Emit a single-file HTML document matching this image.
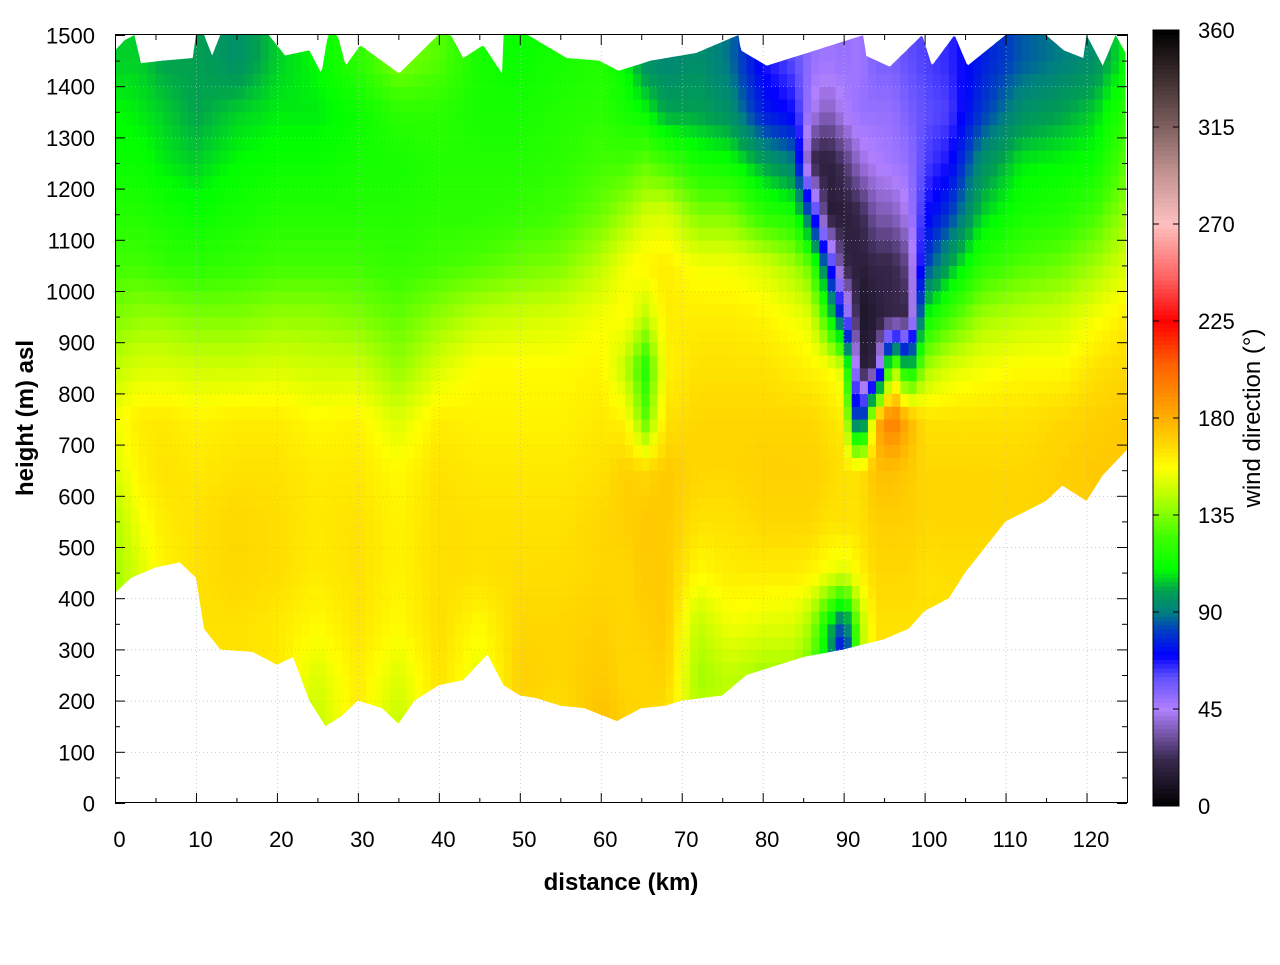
<!DOCTYPE html>
<html><head><meta charset="utf-8"><style>
body{margin:0;background:#fff;}
svg text{font-family:"Liberation Sans",sans-serif;}
</style></head><body>
<svg id="chart" width="1280" height="960" xmlns="http://www.w3.org/2000/svg">
<defs>
<clipPath id="terrainClip"><polygon id="clipPoly" points=""/></clipPath>
</defs>
<g id="heat" clip-path="url(#terrainClip)"></g>
<g id="grid"></g>
<rect x="115.5" y="34.5" width="1012" height="768" fill="none" stroke="#000" stroke-width="1"/>
<g id="axes"></g>
<text x="621" y="890" font-size="24" font-weight="bold" text-anchor="middle">distance (km)</text>
<text transform="translate(33,418) rotate(-90)" font-size="24" font-weight="bold" text-anchor="middle">height (m) asl</text>
<g id="cbar"></g>
<text transform="translate(1260,418) rotate(-90)" font-size="24" text-anchor="middle">wind direction (°)</text>
</svg>
<script>
const distances=[0,3,6,10,15,20,25,30,35,40,45,50,55,60,63,65.5,68,72,76,80,84,86,88,90,92,94,96,98,100,103,107,112,117,121,125];
const heights=[50,150,250,350,450,550,650,750,850,950,1050,1150,1250,1350,1450];
const dirs=[
[140,140,140,140,140,142,150,155,145,135,125,118,112,110,105],
[150,150,150,150,150,155,160,162,150,138,125,118,112,108,105],
[160,160,160,160,160,162,165,163,150,138,122,115,108,105,100],
[165,165,165,165,165,165,163,160,148,135,120,112,105,100,100],
[165,165,165,165,168,168,165,162,148,135,122,115,110,105,95],
[163,163,163,163,166,166,165,162,150,138,125,118,112,108,105],
[150,145,150,158,162,163,162,158,148,138,125,118,112,108,110],
[162,162,162,164,165,165,163,160,148,135,125,118,115,112,120],
[150,145,150,158,160,160,158,150,138,130,122,118,115,120,135],
[163,163,165,166,166,166,165,162,150,138,125,120,118,120,128],
[155,150,152,158,165,165,163,160,158,145,128,120,118,115,115],
[168,168,170,168,166,165,163,160,158,148,132,122,118,115,112],
[165,165,168,168,166,165,163,160,158,150,135,125,120,118,115],
[175,175,172,170,168,168,165,163,160,155,145,132,125,120,118],
[170,170,168,168,168,170,170,160,145,158,155,140,125,115,110],
[168,168,168,170,172,172,168,130,118,145,160,148,130,110,95],
[165,165,170,172,172,172,172,165,160,162,162,150,125,100,92],
[150,145,140,145,158,165,168,168,165,162,155,135,115,100,95],
[150,145,145,155,162,165,168,168,165,162,155,135,112,95,88],
[145,140,140,152,162,168,170,168,165,160,150,120,100,75,68],
[140,140,140,150,162,168,170,168,162,155,140,115,90,68,60],
[140,140,130,140,160,168,170,168,160,150,130,80,20,45,50],
[130,130,100,110,155,165,168,165,158,120,80,15,15,35,48],
[60,60,45,80,150,165,165,162,150,70,20,15,25,45,50],
[140,140,140,140,160,165,165,60,15,10,15,20,40,50,48],
[165,165,165,165,168,170,175,180,20,15,20,35,45,50,55],
[165,165,165,165,168,170,175,200,150,20,20,35,48,50,55],
[165,165,165,165,168,170,172,180,100,20,30,45,50,55,60],
[165,165,165,165,165,168,168,165,140,110,80,68,62,60,62],
[165,165,165,165,166,168,168,165,150,125,100,80,68,62,65],
[165,165,165,165,166,168,168,165,155,140,120,105,95,80,75],
[165,165,165,165,166,168,168,165,158,145,128,115,108,95,85],
[165,165,165,165,168,170,170,168,158,148,132,118,110,100,90],
[165,165,165,165,168,170,172,170,165,155,140,125,112,105,95],
[165,165,165,165,168,170,172,172,168,162,150,140,130,120,110]];
const groundKm=[0,2,5,8,10,11,13,17,20,22,24,26,28,30,33,35,37,40,43,46,48,50,52,55,58,62,65,68,70,75,78,80,85,90,95,98,100,103,105,108,110,115,117,120,122,125];
const groundM=[410,440,460,470,440,340,300,295,270,285,200,150,170,200,185,155,200,230,240,290,230,210,205,190,185,160,185,190,200,210,250,260,285,300,320,340,375,400,450,510,550,590,620,590,640,690];
const topKm=[0,1.2,2.4,3.2,6,9.6,10,11,12,13,19,21,24,25.5,26.3,27.5,28.5,30.3,35.1,39.9,41.5,43,45.5,47.8,48,51,55.8,59.8,62.2,66.2,71.8,77,77.3,80.5,92.5,92.7,95.7,99.7,100.9,103.7,105.3,110,115,117.2,119.6,120,122,123.6,125];
const topM=[1470,1490,1500,1445,1450,1455,1500,1500,1460,1500,1500,1460,1470,1425,1500,1500,1440,1480,1425,1500,1500,1455,1480,1425,1500,1500,1455,1450,1430,1450,1465,1500,1470,1440,1500,1460,1438,1500,1440,1500,1440,1500,1500,1470,1455,1500,1440,1500,1460];
const xTicks=[0,10,20,30,40,50,60,70,80,90,100,110,120];
const yTicks=[0,100,200,300,400,500,600,700,800,900,1000,1100,1200,1300,1400,1500];
const cbTicks=[0,45,90,135,180,225,270,315,360];
const cmapV=[0,22,45,60,70,82,90,100,110,125,145,157,170,185,205,225,245,270,295,315,337,360];
const cmapC=["#000000","#3a2a50","#b080ff","#6050ff","#0000ff","#0040c0","#008080","#00a050","#00ff00","#40ff00","#c0ff00","#ffff00","#ffd000","#ffa000","#ff6000","#ff0000","#ff6060","#ffc0c0","#c09090","#806060","#403030","#000000"];

const NS="http://www.w3.org/2000/svg";
const X0=115,X1=1127,Y0=803,Y1=35;
const xs=d=>X0+(d/125)*(X1-X0);
const ys=h=>Y0-(h/1500)*(Y0-Y1);
const cbY=v=>806-(v/360)*776;
function mk(t,a,p){const e=document.createElementNS(NS,t);for(const k in a)e.setAttribute(k,a[k]);p.appendChild(e);return e;}
function hex(c){return [1,3,5].map(i=>parseInt(c.substr(i,2),16));}
function color(v){v=Math.max(0,Math.min(360,v));let i=0;while(i<cmapV.length-2&&v>cmapV[i+1])i++;
 const t=(v-cmapV[i])/(cmapV[i+1]-cmapV[i]);const a=hex(cmapC[i]),b=hex(cmapC[i+1]);
 return "rgb("+a.map((x,k)=>Math.round(x+(b[k]-x)*t)).join(",")+")";}
function interp1(xa,ya,x){if(x<=xa[0])return ya[0];for(let i=0;i<xa.length-1;i++)if(x<=xa[i+1]){const t=(x-xa[i])/(xa[i+1]-xa[i]);return ya[i]+(ya[i+1]-ya[i])*t;}return ya[ya.length-1];}
function locate(arr,x){if(x<=arr[0])return[0,0,0];const n=arr.length-1;if(x>=arr[n])return[n,n,0];
 for(let i=0;i<n;i++)if(x<=arr[i+1])return[i,i+1,(x-arr[i])/(arr[i+1]-arr[i])];return[n,n,0];}
function val(d,h){const [i0,i1,tx]=locate(distances,d),[j0,j1,ty]=locate(heights,h);
 const a=dirs[i0][j0]*(1-ty)+dirs[i0][j1]*ty,b=dirs[i1][j0]*(1-ty)+dirs[i1][j1]*ty;return a*(1-tx)+b*tx;}
let pts=[];
for(let d=0;d<=125;d+=0.2)pts.push(xs(d).toFixed(1)+","+ys(interp1(topKm,topM,d)).toFixed(1));
for(let d=125;d>=-0.01;d-=0.5)pts.push(xs(Math.max(0,d)).toFixed(1)+","+ys(interp1(groundKm,groundM,d)).toFixed(1));
document.getElementById('clipPoly').setAttribute('points',pts.join(" "));
const heat=document.getElementById('heat');
const dd=1,dh=25;
for(let d=0;d<125;d+=dd){for(let h=0;h<1500;h+=dh){
 const c=color(val(d+dd/2,h+dh/2));
 const r=mk('rect',{x:xs(d).toFixed(2),y:ys(h+dh).toFixed(2),width:(xs(d+dd)-xs(d)+0.6).toFixed(2),height:(ys(h)-ys(h+dh)+0.6).toFixed(2),fill:c},heat);
 
 
}}
const grid=document.getElementById('grid'),axes=document.getElementById('axes');
xTicks.forEach(t=>{const x=xs(t)+0.5;
 if(t>0){const g=mk('line',{x1:x,x2:x,y1:Y1,y2:Y0,stroke:"#bbb","stroke-width":0.7,"stroke-dasharray":"1,3"},grid);}
 mk('line',{x1:x,x2:x,y1:Y0,y2:Y0-10,stroke:"#000"},axes);mk('line',{x1:x,x2:x,y1:Y1,y2:Y1+10,stroke:"#000"},axes);
 const l=mk('text',{x:x+4,y:847,"font-size":22,"text-anchor":"middle"},axes);l.textContent=t;
 });
for(let t=5;t<125;t+=10){const x=xs(t)+0.5;mk('line',{x1:x,x2:x,y1:Y0,y2:Y0-5,stroke:"#000"},axes);mk('line',{x1:x,x2:x,y1:Y1,y2:Y1+5,stroke:"#000"},axes);}
yTicks.forEach(t=>{const y=ys(t)+0.5;
 if(t>0&&t<1500){const g=mk('line',{x1:X0,x2:X1,y1:y,y2:y,stroke:"#bbb","stroke-width":0.7,"stroke-dasharray":"1,3"},grid);}
 mk('line',{x1:X0,x2:X0+10,y1:y,y2:y,stroke:"#000"},axes);mk('line',{x1:X1-10,x2:X1,y1:y,y2:y,stroke:"#000"},axes);
 const l=mk('text',{x:95,y:y+8,"font-size":22,"text-anchor":"end"},axes);l.textContent=t;
 });
for(let t=50;t<1500;t+=100){const y=ys(t)+0.5;mk('line',{x1:X0,x2:X0+5,y1:y,y2:y,stroke:"#000"},axes);mk('line',{x1:X1-5,x2:X1,y1:y,y2:y,stroke:"#000"},axes);}
const cb=document.getElementById('cbar');
for(let v=0;v<360;v+=2){const r=mk('rect',{x:1153,y:cbY(v+2).toFixed(2),width:26,height:(cbY(v)-cbY(v+2)+0.5).toFixed(2),fill:color(v+1)},cb);
 }
mk('rect',{x:1153,y:30,width:26,height:776,fill:"none",stroke:"#000"},cb);
cbTicks.forEach(t=>{const y=cbY(t);
 mk('line',{x1:1153,x2:1159,y1:y,y2:y,stroke:"#000"},cb);mk('line',{x1:1173,x2:1179,y1:y,y2:y,stroke:"#000"},cb);
 const l=mk('text',{x:1198,y:y+8,"font-size":22},cb);l.textContent=t;
 });
</script>
</body></html>
